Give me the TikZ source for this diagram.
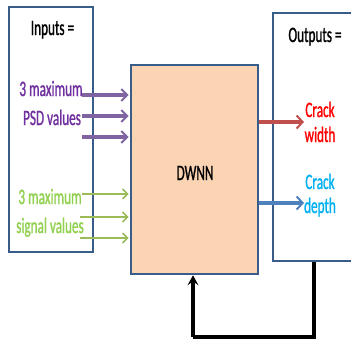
\documentclass[tikz,border=0pt]{standalone}
\usepackage{fontspec}
\setmainfont{Carlito}[FakeStretch=0.6,FakeBold=1]
\usetikzlibrary{arrows.meta}
\definecolor{boxline}{HTML}{385D8A}
\definecolor{peach}{HTML}{FBD4B4}
\definecolor{purpA}{HTML}{8064A2}
\definecolor{purpT}{HTML}{7030A0}
\definecolor{greenA}{HTML}{9BBB59}
\definecolor{greenT}{HTML}{92D050}
\definecolor{redA}{HTML}{C0504D}
\definecolor{blueA}{HTML}{4F81BD}
\definecolor{cyanT}{HTML}{00B0F0}
\tikzset{
  blockbox/.style={draw=boxline, line width=2.6pt, inner sep=0pt},
  lbl/.style={inner sep=0pt, font=\fontsize{22}{24}\selectfont, anchor=base},
  purparrow/.style={draw=purpA, line width=3.4pt, -{Straight Barb[length=6pt,width=12pt,line width=2pt]}},
  greenarrow/.style={draw=greenA, line width=1.8pt, -{Straight Barb[length=5pt,width=10pt,line width=1.6pt]}},
  outarrow/.style={line width=3.4pt, -{Straight Barb[length=6pt,width=13pt,line width=2pt]}},
  fbline/.style={draw=black, line width=3.4pt},
}
\begin{document}
\begin{tikzpicture}[x=1pt,y=-1pt]
\useasboundingbox (0,0) rectangle (351,343);
\fill[white] (0,0) rectangle (351,343);
% boxes
\node[blockbox, fill=white, minimum width=84pt, minimum height=245pt] (inbox) at (51,129.5) {};
\node[blockbox, fill=peach, minimum width=127pt, minimum height=209pt] (dwnn) at (194.5,169.5) {};
\node[blockbox, fill=white, minimum width=90pt, minimum height=248pt] (outbox) at (318,137) {};
% texts
\node[lbl] (intitle) at (52.5,35) {Inputs =};
\node[lbl, text=purpT] (psdA) at (51,96) {3 maximum};
\node[lbl, text=purpT] (psdB) at (52,125) {PSD values};
\node[lbl, text=greenT] (sigA) at (50,204) {3 maximum};
\node[lbl, text=greenT] (sigB) at (50,233) {signal values};
\node[lbl] (dwnnlbl) at (195,180) {DWNN};
\node[lbl] (outtitle) at (315,42) {Outputs =};
\node[lbl, text=red] (cwA) at (320,117) {Crack};
\node[lbl, text=red] (cwB) at (320,142) {width};
\node[lbl, text=cyanT] (cdA) at (320,189) {Crack};
\node[lbl, text=cyanT] (cdB) at (320,213) {depth};
% input arrow starts
\coordinate (p1) at (82,95);
\coordinate (p2) at (82,116);
\coordinate (p3) at (82,137);
\coordinate (g1) at (82,194);
\coordinate (g2) at (80,217);
\coordinate (g3) at (80,238);
\foreach \c in {p1,p2,p3} \draw[purparrow] (\c) -- ([xshift=-1pt]dwnn.west |- \c);
\foreach \c in {g1,g2,g3} \draw[greenarrow] (\c) -- ([xshift=-1pt]dwnn.west |- \c);
% outputs
\coordinate (rw) at (304,122);
\coordinate (bd) at (304,203);
\draw[outarrow, draw=redA] (dwnn.east |- rw) -- (rw);
\draw[outarrow, draw=blueA] (dwnn.east |- bd) -- (bd);
% feedback
\coordinate (fbR) at (314,337);
\coordinate (fbL) at (193,337);
\draw[fbline] (outbox.south -| fbR) -- (fbR) -- (fbL);
\draw[fbline, -{Stealth[length=10pt,width=11pt,inset=4pt]}] (fbL) -- (dwnn.south -| fbL);
\end{tikzpicture}
\end{document}
